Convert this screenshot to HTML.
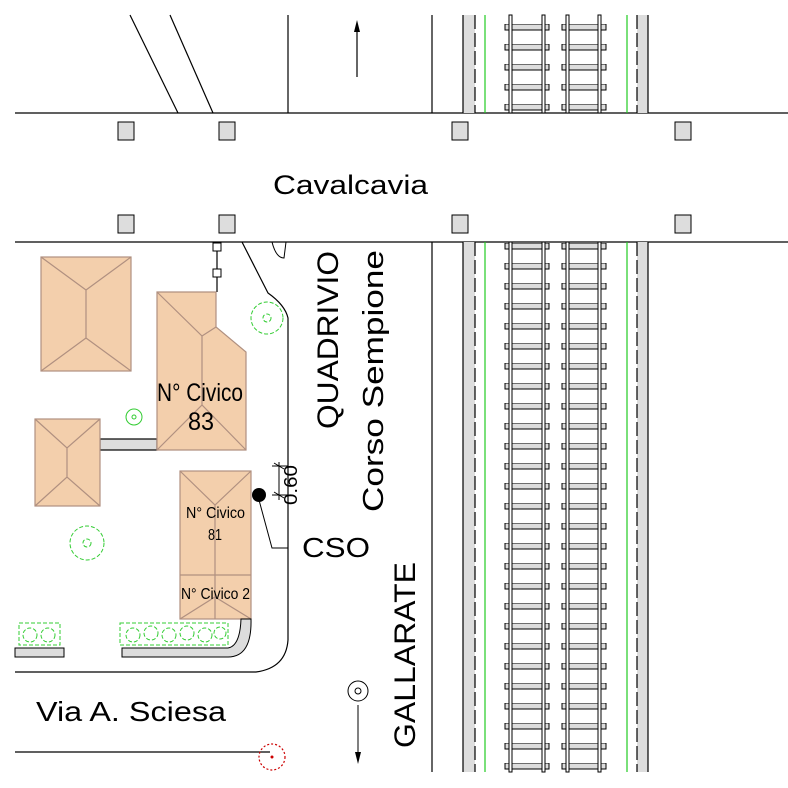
<!DOCTYPE html>
<html><head><style>body{margin:0;background:#fff}svg{display:block}</style></head><body>
<svg width="788" height="788" viewBox="0 0 788 788" xmlns="http://www.w3.org/2000/svg" font-family="Liberation Sans, sans-serif">
<defs>
<pattern id="sl" x="0" y="24" width="788" height="20" patternUnits="userSpaceOnUse">
<rect x="505" y="0" width="44" height="6" fill="#ddd" stroke="#000" stroke-width="1"/>
<rect x="562" y="0" width="44" height="6" fill="#ddd" stroke="#000" stroke-width="1"/>
</pattern>
<pattern id="sl2" x="0" y="243" width="788" height="20" patternUnits="userSpaceOnUse">
<rect x="505" y="0" width="44" height="6" fill="#ddd" stroke="#000" stroke-width="1"/>
<rect x="562" y="0" width="44" height="6" fill="#ddd" stroke="#000" stroke-width="1"/>
</pattern>
</defs>
<g stroke="#000" stroke-width="1.2" fill="none">
<line x1="15" y1="113" x2="788" y2="113"/>
<line x1="15" y1="242" x2="788" y2="242"/>
<line x1="288" y1="15" x2="288" y2="113"/>
<line x1="432" y1="15" x2="432" y2="113"/>
<line x1="432" y1="242" x2="432" y2="772"/>
<line x1="130" y1="15" x2="178" y2="113"/>
<line x1="170" y1="15" x2="213" y2="113"/>
<line x1="357" y1="77" x2="357" y2="28"/>
</g>
<polygon points="354,32 357,20 360,32" fill="#000"/>
<g>
<rect x="463" y="15" width="12" height="98" fill="#ddd"/><rect x="463" y="242" width="12" height="530" fill="#ddd"/>
<rect x="637" y="15" width="11" height="98" fill="#ddd"/><rect x="637" y="242" width="11" height="530" fill="#ddd"/>
<g stroke="#000" stroke-width="1.2">
<line x1="463" y1="15" x2="463" y2="113"/><line x1="463" y1="242" x2="463" y2="772"/>
<line x1="648" y1="15" x2="648" y2="113"/><line x1="648" y1="242" x2="648" y2="772"/>
<line x1="475" y1="15" x2="475" y2="113" stroke-dasharray="14,4"/><line x1="475" y1="242" x2="475" y2="772" stroke-dasharray="14,4"/>
<line x1="637" y1="15" x2="637" y2="113" stroke-dasharray="14,4"/><line x1="637" y1="242" x2="637" y2="772" stroke-dasharray="14,4"/>
</g>
<g stroke="#2c2" stroke-width="1.2">
<line x1="485" y1="15" x2="485" y2="113"/><line x1="485" y1="242" x2="485" y2="772"/>
<line x1="627" y1="15" x2="627" y2="113"/><line x1="627" y1="242" x2="627" y2="772"/>
</g>
<rect x="500" y="15" width="110" height="98" fill="url(#sl)"/>
<rect x="500" y="242" width="110" height="530" fill="url(#sl2)"/>
<g fill="#fff" stroke="#000" stroke-width="1">
<rect x="509" y="15" width="3" height="98"/><rect x="542" y="15" width="3" height="98"/>
<rect x="566" y="15" width="3" height="98"/><rect x="598" y="15" width="3" height="98"/>
<rect x="509" y="242" width="3" height="530"/><rect x="542" y="242" width="3" height="530"/>
<rect x="566" y="242" width="3" height="530"/><rect x="598" y="242" width="3" height="530"/>
</g>
</g>
<g fill="#ddd" stroke="#000" stroke-width="1">
<rect x="118" y="122" width="16" height="18"/><rect x="219" y="122" width="16" height="18"/><rect x="452" y="122" width="16" height="18"/><rect x="675" y="122" width="16" height="18"/>
<rect x="118" y="215" width="16" height="18"/><rect x="219" y="215" width="16" height="18"/><rect x="452" y="215" width="16" height="18"/><rect x="675" y="215" width="16" height="18"/>
</g>
<text x="273" y="194" font-size="27" textLength="155" lengthAdjust="spacingAndGlyphs">Cavalcavia</text>
<g stroke="#000" stroke-width="1.2" fill="none">
<path d="M242,242 L268,293 Q285,305 288,318 L288,640 Q286,668 256,672 L15,672"/>
<path d="M272,242 Q276,258 284,258 L286,242" stroke-width="1"/>
<line x1="15" y1="752" x2="270" y2="752"/>
<line x1="217" y1="242" x2="217" y2="292"/>
</g>
<rect x="213" y="243" width="8" height="8" fill="#fff" stroke="#000"/>
<rect x="213" y="269" width="8" height="8" fill="#fff" stroke="#000"/>
<g fill="#f3cfac" stroke="#b09080" stroke-width="1.2">
<rect x="41" y="257" width="90" height="114"/>
<path d="M41,257 L86,290 L131,257 M86,290 L86,338 M41,371 L86,338 L131,371" fill="none"/>
<rect x="100" y="439" width="57" height="11" fill="#ddd" stroke="#000"/>
<polygon points="157,292 216,292 216,327 246,352 246,450 157,450"/>
<path d="M157,292 L202,336 L216,327 M202,336 L202,405 M157,450 L202,405 L246,450" fill="none"/>
<rect x="35" y="419" width="65" height="87"/>
<path d="M35,419 L67,448 L100,419 M67,448 L67,477 M35,506 L67,477 L100,506" fill="none"/>
<rect x="180" y="471" width="71" height="148"/>
<path d="M180,471 L215,505 L251,471 M215,505 L215,619 M180,575 L251,575 M180,619 L215,597 L251,619" fill="none"/>
</g>
<text x="157" y="401" font-size="25" textLength="86" lengthAdjust="spacingAndGlyphs">N° Civico</text>
<text x="188" y="430" font-size="25" textLength="26" lengthAdjust="spacingAndGlyphs">83</text>
<text x="186" y="518" font-size="16" textLength="59" lengthAdjust="spacingAndGlyphs">N° Civico</text>
<text x="208" y="540" font-size="16" textLength="14" lengthAdjust="spacingAndGlyphs">81</text>
<text x="181" y="599" font-size="16" textLength="69" lengthAdjust="spacingAndGlyphs">N° Civico 2</text>
<g fill="#ddd" stroke="#000" stroke-width="1">
<rect x="15" y="648" width="49" height="9"/>
<path d="M122,648 L228,648 Q240,646 241,619 L251,619 Q252,657 228,657 L122,657 Z"/>
</g>
<g fill="none" stroke="#3c3" stroke-width="1" stroke-dasharray="4,2">
<rect x="19" y="623" width="41" height="22"/><rect x="120" y="623" width="108" height="22"/>
<circle cx="30" cy="635" r="7"/><circle cx="48" cy="635" r="7"/>
<circle cx="133" cy="635" r="7"/><circle cx="151" cy="633" r="7"/><circle cx="169" cy="635" r="7"/><circle cx="187" cy="633" r="7"/><circle cx="205" cy="635" r="7"/><circle cx="220" cy="633" r="6"/>
<circle cx="87" cy="543" r="17"/><circle cx="87" cy="543" r="4"/>
<circle cx="267" cy="318" r="16"/><circle cx="267" cy="318" r="4"/>
<circle cx="134" cy="417" r="8" stroke-dasharray="none"/><circle cx="134" cy="417" r="2" stroke-dasharray="none"/>
</g>
<circle cx="272" cy="757" r="13" fill="none" stroke="#c00" stroke-width="1.2" stroke-dasharray="2,2"/>
<circle cx="272" cy="757" r="1.5" fill="#c00"/>
<circle cx="259" cy="495" r="7" fill="#000"/>
<polyline points="259,500 272,548 288,548" fill="none" stroke="#000" stroke-width="1"/>
<g stroke="#000" stroke-width="1" fill="none">
<line x1="272" y1="466" x2="288" y2="466"/><line x1="272" y1="495" x2="288" y2="495"/>
<line x1="279" y1="462" x2="279" y2="500"/>
<line x1="274" y1="463" x2="284" y2="469"/><line x1="274" y1="492" x2="284" y2="498"/>
</g>
<text transform="translate(297,505) rotate(-90)" font-size="18" textLength="40" lengthAdjust="spacingAndGlyphs">0.60</text>
<text x="302" y="557" font-size="28" textLength="68" lengthAdjust="spacingAndGlyphs">CSO</text>
<text transform="translate(338,429) rotate(-90)" font-size="30" textLength="178" lengthAdjust="spacingAndGlyphs">QUADRIVIO</text>
<text transform="translate(383,512) rotate(-90)" font-size="29" textLength="262" lengthAdjust="spacingAndGlyphs">Corso Sempione</text>
<text transform="translate(415,748) rotate(-90)" font-size="30" textLength="186" lengthAdjust="spacingAndGlyphs">GALLARATE</text>
<text x="36" y="721" font-size="28" textLength="190" lengthAdjust="spacingAndGlyphs">Via A. Sciesa</text>
<circle cx="358" cy="691" r="10" fill="none" stroke="#000"/><circle cx="358" cy="691" r="3" fill="none" stroke="#000"/>
<line x1="358" y1="705" x2="358" y2="758" stroke="#000"/>
<polygon points="355,752 358,764 361,752" fill="#000"/>
</svg>
</body></html>
